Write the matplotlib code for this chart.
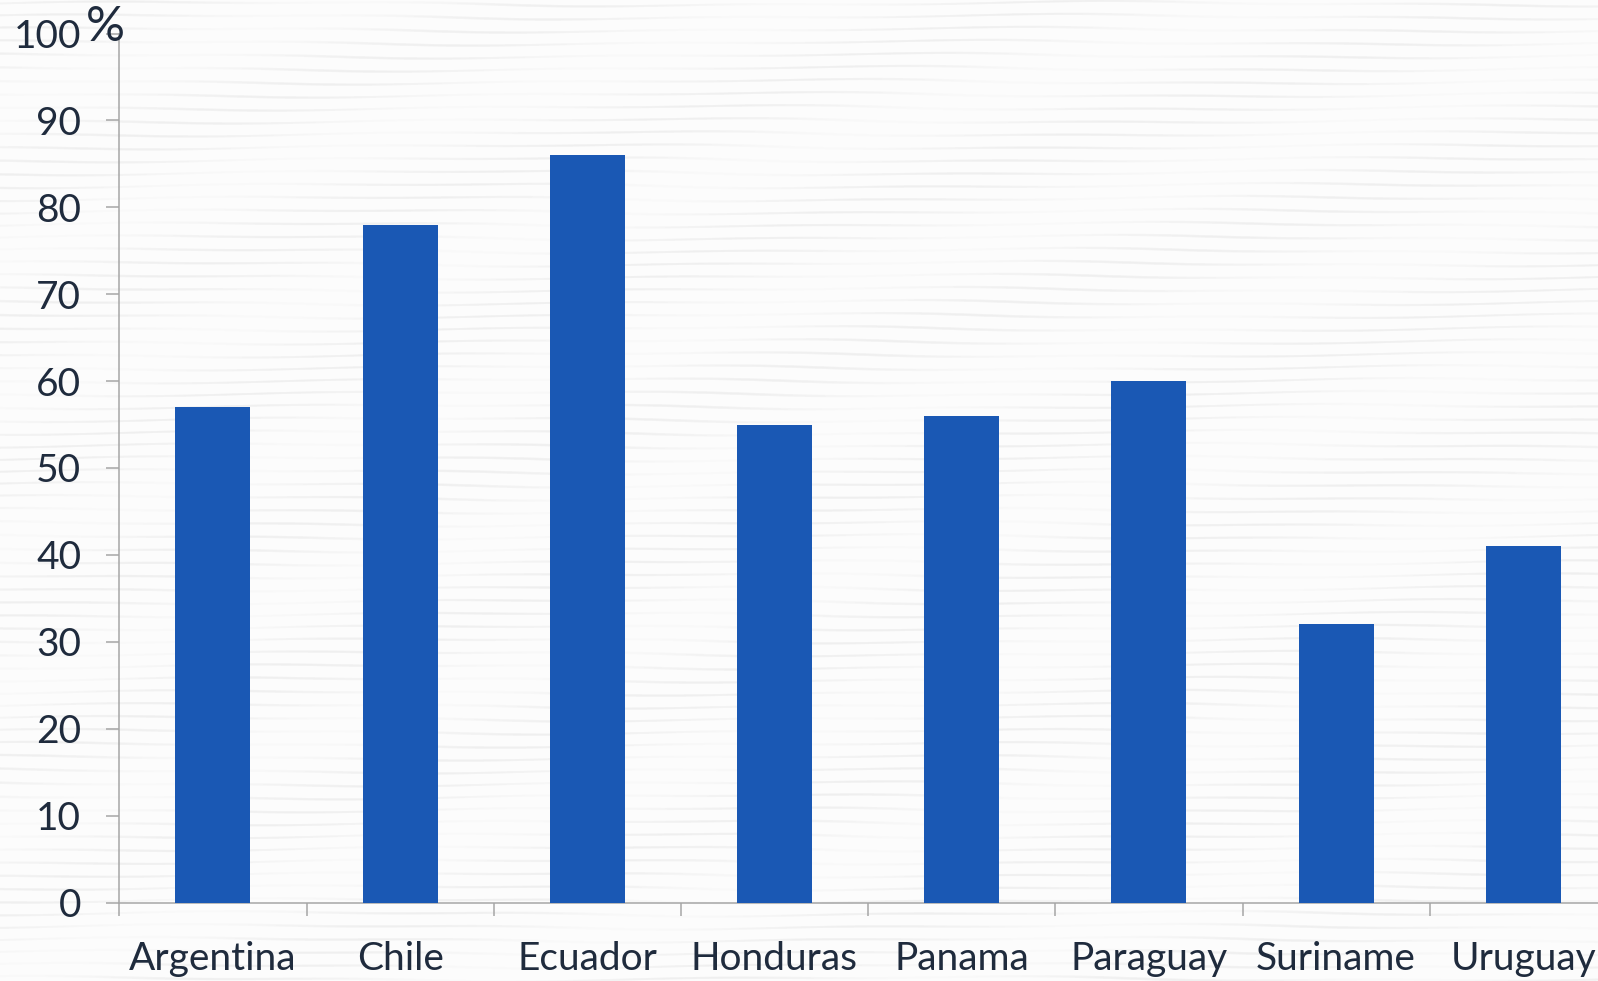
import numpy as np
import matplotlib
matplotlib.use("Agg")
import matplotlib.pyplot as plt

plt.rcParams["font.family"] = ["Lato", "DejaVu Sans"]

countries = ["Argentina", "Chile", "Ecuador", "Honduras", "Panama",
             "Paraguay", "Suriname", "Uruguay"]
share = [57, 78, 86, 55, 56, 60, 32, 41]
y_ticks = [0, 10, 20, 30, 40, 50, 60, 70, 80, 90, 100]

BAR = "#1a58b4"
TXT = "#1f2b3d"
AXC = "#a6a6a6"

W, H = 1598, 981
fig = plt.figure(figsize=(W / 100, H / 100), dpi=100)

# streaky paper-like background (pure styling, deterministic)
bg = fig.add_axes([0, 0, 1, 1], zorder=-10)
yy, xx = np.mgrid[0:H, 0:W]
wave = np.sin(2 * np.pi * yy / 13.0
              + 0.9 * np.sin(2 * np.pi * xx / 900.0 + yy / 37.0)
              + 0.5 * np.sin(2 * np.pi * xx / 340.0 + yy / 19.0))
fade = 0.6 + 0.4 * np.sin(2 * np.pi * xx / 470.0 + yy / 23.0)
streak = np.clip((wave - 0.72) / 0.28, 0, 1) * fade
shade = 0.985 - 0.05 * streak
bg.imshow(shade, cmap="gray", vmin=0, vmax=1, aspect="auto",
          interpolation="bilinear", extent=[0, 1, 0, 1])
bg.axis("off")

ax = fig.add_axes([119.3 / W, 1 - 902.5 / H, 8 * 187.2 / W, 869 / H])
ax.patch.set_alpha(0)

x = np.arange(len(countries))
ax.bar(x, share, width=0.4, color=BAR, zorder=3)

ax.set_xlim(-0.5, len(countries) - 0.5)
ax.set_ylim(0, 100)

ax.set_yticks(y_ticks)
ax.set_yticklabels([str(v) for v in y_ticks])
ax.set_xticks(np.arange(len(countries) + 1) - 0.5)
ax.set_xticklabels([])
ax.set_xticks(x, minor=True)
ax.set_xticklabels(countries, minor=True)

for s in ["top", "right"]:
    ax.spines[s].set_visible(False)
for s in ["left", "bottom"]:
    ax.spines[s].set_color(AXC)
    ax.spines[s].set_linewidth(1.1)

ax.tick_params(axis="y", direction="out", length=9.4, width=1.1, color=AXC,
               labelsize=28, labelcolor=TXT, pad=18)
ax.tick_params(axis="x", which="major", direction="out", length=9.4,
               width=1.1, color=AXC)
ax.tick_params(axis="x", which="minor", length=0, labelsize=28,
               labelcolor=TXT, pad=28)

fig.text(105 / W, 1 - 27 / H, "%", ha="center", va="center",
         fontsize=35, color=TXT)

fig.savefig("out.png", dpi=100)
